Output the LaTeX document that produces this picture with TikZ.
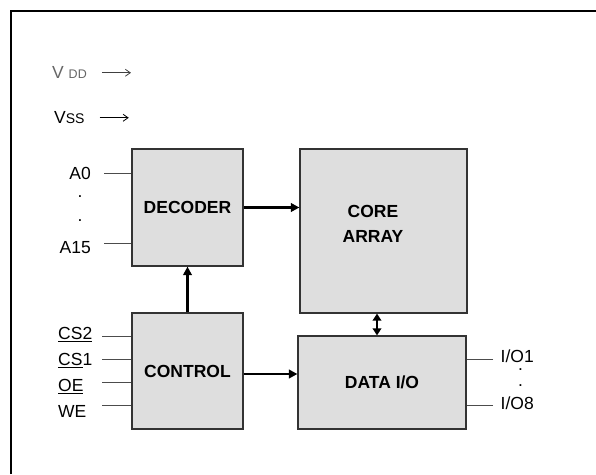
\documentclass[tikz,border=0pt]{standalone}
\usepackage{fontspec}
\setmainfont{Liberation Sans}
\usetikzlibrary{
    positioning,
    arrows.meta,
    calc
}

\begin{document}
\begin{tikzpicture}[x=1pt,y=-1pt,
    block/.style={draw=black!80, line width=1.2pt, fill=black!13, inner sep=0pt,
        font=\fontsize{17.5}{25}\selectfont\bfseries},
    sig/.style={font=\fontsize{17.5}{21}\selectfont, inner sep=0pt,
        text height=12.5pt, text depth=0pt},
    dots/.style={font=\fontsize{17.5}{21}\selectfont, inner sep=0pt},
    wire/.style={draw=black!70, line width=1pt},
    bus/.style={line width=2.2pt, -{Triangle[length=8.5pt,width=8.5pt]}},
    supply/.style={line width=0.8pt, -{Straight Barb[length=5pt,width=7pt]}}]
            \useasboundingbox (0,0) rectangle (596,474);

            % Frame
            \draw[line width=2.2pt] (11,474) -- (11,11) -- (598,11);

            % Supplies
            \node[sig, anchor=base west, text=black!60] (vdd) at (52,78)
                {V {\fontsize{12.5}{14}\selectfont DD}};
            \node[sig, anchor=base west] (vss) at (54,123)
                {V{\fontsize{14}{16}\selectfont SS}};
            \draw[supply, draw=black!75] ([xshift=15pt,yshift=-1pt]vdd.east) -- ++(29,0);
            \draw[supply] ([xshift=15pt,yshift=-1pt]vss.east) -- ++(29,0);

            % Blocks
            \node[block, minimum width=111pt, minimum height=117pt] (decoder) at (187.5,207.5) {DECODER};
            \node[block, minimum width=167pt, minimum height=164pt] (core) at (383.5,231) {};
            \node[block, draw=none, fill=none, align=center] (coretext) at (373,223.5) {CORE\\ARRAY};
            \node[block, minimum width=111pt, minimum height=116pt] (control) at (187.5,371) {CONTROL};
            \node[block, minimum width=168pt, minimum height=93pt] (dataio) at (382,382.5) {DATA I/O};

            % Address inputs
            \node[sig, anchor=east] (a0) at (91,173.5) {A0};
            \node[sig, anchor=east] (a15) at (91,247.5) {A15};
            \node[dots] (adot1) at (80,197) {.};
            \node[dots] (adot2) at (80,221) {.};
            \coordinate (a0pin) at (104,173);
            \coordinate (a15pin) at (104,243);
            \draw[wire] (a0pin) -- (a0pin -| decoder.west);
            \draw[wire] (a15pin) -- (a15pin -| decoder.west);

            % Control inputs
            \foreach \name/\txt/\ty/\py in {cstwo/{\underline{CS2}}/333/336,
                csone/{\underline{CS}1}/359.5/359, oe/{\underline{OE}}/385.5/382, we/WE/411.5/405}{
                \node[sig, anchor=west] (\name) at (58,\ty) {\txt};
                \coordinate (\name pin) at (102,\py);
                \draw[wire] (\name pin) -- (\name pin -| control.west);
            }

            % Data outputs
            \node[sig, anchor=west] (io1) at (500.5,356.5) {I/O1};
            \node[sig, anchor=west] (io8) at (500.5,403.5) {I/O8};
            \node[dots] (iodot1) at (520.5,370) {.};
            \node[dots] (iodot2) at (520.5,386) {.};
            \coordinate (io1pin) at (493,359);
            \coordinate (io8pin) at (493,405);
            \draw[wire] (io1pin) -- (io1pin -| dataio.east);
            \draw[wire] (io8pin) -- (io8pin -| dataio.east);

            % Internal buses
            \draw[bus] (decoder.east) -- (decoder.east -| core.west);
            \draw[bus] (control.north) -- (decoder.south);
            \draw[bus] ([yshift=-3pt]control.east) -- ([yshift=-3pt]control.east -| dataio.west);
            \draw[bus, {Triangle[length=7pt,width=8.5pt]}-{Triangle[length=7pt,width=8.5pt]}]
                ([xshift=-6.5pt]core.south) -- ([xshift=-6.5pt]core.south |- dataio.north);
          \end{tikzpicture}
\end{document}
